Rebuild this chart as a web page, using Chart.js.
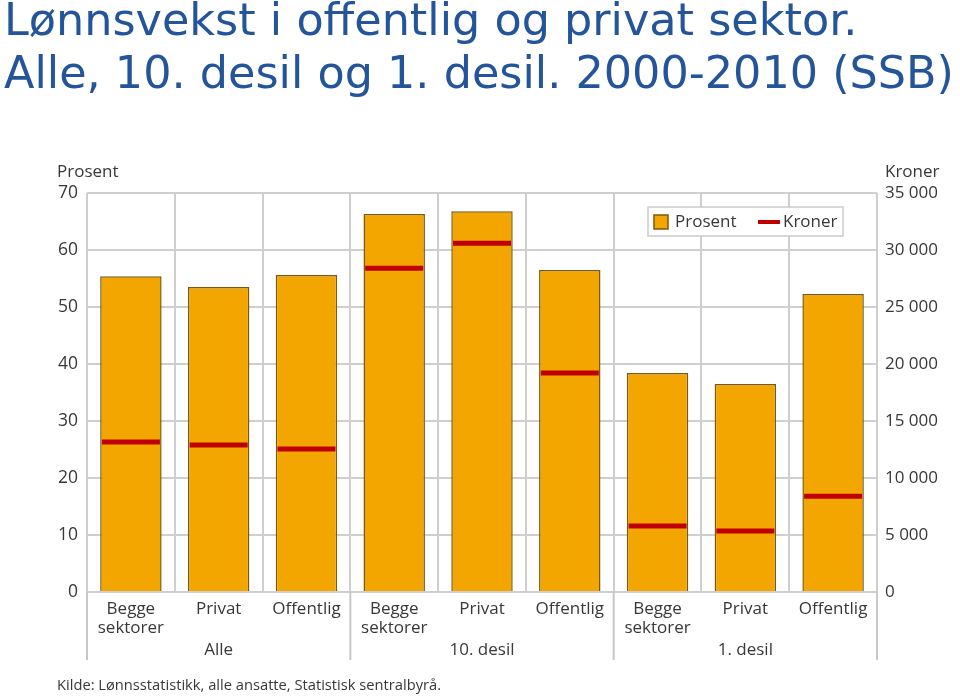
<!DOCTYPE html>
<html>
<head>
<meta charset="utf-8">
<script src="https://cdn.jsdelivr.net/npm/chart.js@4"></script>
<style>
  body { margin: 0; background: #fff; }
  #wrap { position: relative; width: 960px; height: 698px; overflow: hidden; }
  #title {
    position: absolute; left: 4px; top: -7px; z-index: 2;
    font-family: "DejaVu Sans", Verdana, sans-serif; font-size: 44.5px;
    line-height: 53px; color: #24559a; white-space: nowrap;
  }
  canvas { position: absolute; left: 0; top: 0; }
</style>
</head>
<body>
<div id="wrap">
  <div id="title">Lønnsvekst i offentlig og privat sektor.<br>Alle, 10. desil og 1. desil. 2000-2010 (SSB)</div>
  <canvas id="chart" width="960" height="698"></canvas>
</div>
<script>
// data
const categories = [['Begge', 'sektorer'], 'Privat', 'Offentlig',
                    ['Begge', 'sektorer'], 'Privat', 'Offentlig',
                    ['Begge', 'sektorer'], 'Privat', 'Offentlig'];
const groups = ['Alle', '10. desil', '1. desil'];
const prosent = [55.4, 53.5, 55.6, 66.3, 66.8, 56.5, 38.4, 36.5, 52.3];
const kroner = [13150, 12900, 12550, 28400, 30600, 19200, 5800, 5350, 8400];
const source = 'Kilde: Lønnsstatistikk, alle ansatte, Statistisk sentralbyrå.';

const font = 'Open Sans';
const textColor = '#383838';
const gridColor = '#cfcfcf';

// Group labels, separators, axis titles, legend and source
const extras = {
    id: 'extras',
    afterDraw(chart) {
        const ctx = chart.ctx;
        const x = chart.scales.x;
        const area = chart.chartArea;
        const half = (x.getPixelForValue(1) - x.getPixelForValue(0)) / 2;
        ctx.save();

        // group separators below the axis
        ctx.strokeStyle = '#c8c8c8';
        ctx.lineWidth = 2;
        for (let i = 0; i <= groups.length; i++) {
            const px = i < groups.length ? x.getPixelForValue(i * 3) - half : x.getPixelForValue(i * 3 - 1) + half;
            ctx.beginPath();
            ctx.moveTo(px, area.bottom);
            ctx.lineTo(px, area.bottom + 68);
            ctx.stroke();
        }

        ctx.fillStyle = textColor;
        ctx.font = '17px "' + font + '"';
        ctx.textAlign = 'center';
        ctx.textBaseline = 'middle';
        groups.forEach((g, i) => {
            ctx.fillText(g, x.getPixelForValue(i * 3 + 1), area.bottom + 58);
        });

        // axis titles
        ctx.textAlign = 'left';
        ctx.fillText('Prosent', 57, area.top - 21);
        ctx.fillText('Kroner', area.right + 8, area.top - 21);

        // source
        ctx.font = '14.7px "' + font + '"';
        ctx.fillText(source, 57, 686);

        // legend box
        const lx = area.right - 229, ly = area.top + 14;
        ctx.fillStyle = '#ffffff';
        ctx.fillRect(lx, ly, 195, 29);
        ctx.strokeStyle = '#cccccc';
        ctx.lineWidth = 1.5;
        ctx.strokeRect(lx, ly, 195, 29);

        ctx.fillStyle = '#f4a600';
        ctx.fillRect(lx + 6, ly + 8, 14, 14);
        ctx.strokeStyle = '#7b5a10';
        ctx.lineWidth = 1.5;
        ctx.strokeRect(lx + 6, ly + 8, 14, 14);

        ctx.strokeStyle = '#c00000';
        ctx.lineWidth = 4;
        ctx.beginPath();
        ctx.moveTo(lx + 110, ly + 15);
        ctx.lineTo(lx + 132, ly + 15);
        ctx.stroke();

        ctx.fillStyle = textColor;
        ctx.font = '17px "' + font + '"';
        ctx.fillText('Prosent', lx + 27, ly + 15);
        ctx.fillText('Kroner', lx + 135, ly + 15);
        ctx.restore();
    }
};

new Chart(document.getElementById('chart').getContext('2d'), {
    data: {
        labels: categories,
        datasets: [
            {
                type: 'line',
                label: 'Kroner',
                data: kroner,
                yAxisID: 'y1',
                showLine: false,
                pointStyle: 'line',
                pointRadius: 29,
                pointHoverRadius: 29,
                borderColor: '#c00000',
                pointBorderWidth: 5,
                order: 1
            },
            {
                type: 'bar',
                label: 'Prosent',
                data: prosent,
                yAxisID: 'y',
                backgroundColor: '#f4a600',
                borderColor: '#7b5a10',
                borderWidth: 1.5,
                categoryPercentage: 1,
                barPercentage: 0.7,
                order: 2
            }
        ]
    },
    options: {
        responsive: false,
        animation: false,
        devicePixelRatio: 1,
        layout: { padding: { top: 193, left: 0, right: 0, bottom: 0 } },
        plugins: { legend: { display: false }, title: { display: false }, tooltip: { enabled: false } },
        scales: {
            x: {
                type: 'category',
                offset: true,
                grid: { color: gridColor, lineWidth: 2, drawTicks: false, offset: true },
                border: { display: false },
                ticks: {
                    color: textColor, font: { family: font, size: 17, lineHeight: 1.15 },
                    padding: 7, maxRotation: 0, autoSkip: false
                },
                afterFit(s) { s.height = 106; }
            },
            y: {
                position: 'left',
                min: 0, max: 70,
                grid: { color: gridColor, lineWidth: 2, drawTicks: false },
                border: { display: false },
                ticks: { stepSize: 10, padding: 9, color: textColor, font: { family: font, size: 17.5 } },
                afterFit(s) { s.width = 87; }
            },
            y1: {
                position: 'right',
                min: 0, max: 35000,
                grid: { display: false, drawTicks: false },
                border: { display: false },
                ticks: {
                    stepSize: 5000, padding: 8, color: textColor, font: { family: font, size: 17 },
                    callback: v => v.toLocaleString('en-US').replace(/,/g, ' ')
                },
                afterFit(s) { s.width = 83; }
            }
        }
    },
    plugins: [extras]
});
</script>
</body>
</html>
